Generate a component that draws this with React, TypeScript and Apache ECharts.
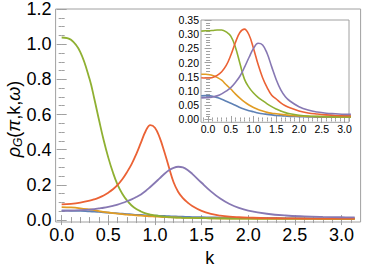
import React, { useEffect, useRef } from "react";
import * as echarts from "echarts";

// ---------- main panel data ----------
const kMain = [0, 0.1, 0.2, 0.3, 0.35, 0.4, 0.45, 0.5, 0.55, 0.6, 0.65, 0.7, 0.75, 0.8, 0.85, 0.9, 0.95, 1.0, 1.05, 1.1, 1.15, 1.2, 1.25, 1.3, 1.35, 1.4, 1.5, 1.6, 1.7, 1.8, 1.9, 2.0, 2.2, 2.4, 2.6, 2.8, 3.0, 3.14159];
const mainBlue = [0.054, 0.053, 0.052, 0.049, 0.048, 0.046, 0.044, 0.042, 0.04, 0.038, 0.036, 0.034, 0.032, 0.03, 0.029, 0.027, 0.026, 0.025, 0.024, 0.023, 0.022, 0.021, 0.02, 0.019, 0.018, 0.017, 0.016, 0.015, 0.014, 0.013, 0.012, 0.012, 0.011, 0.01, 0.01, 0.009, 0.009, 0.009];
const mainOrange = [0.074, 0.072, 0.067, 0.06, 0.056, 0.051, 0.047, 0.043, 0.04, 0.037, 0.034, 0.031, 0.029, 0.027, 0.025, 0.023, 0.021, 0.02, 0.018, 0.017, 0.016, 0.015, 0.014, 0.013, 0.012, 0.012, 0.011, 0.01, 0.009, 0.009, 0.008, 0.008, 0.007, 0.007, 0.007, 0.006, 0.006, 0.006];
const mainGreen = [1.038, 1.025, 0.955, 0.8, 0.69, 0.57, 0.455, 0.355, 0.27, 0.2, 0.15, 0.112, 0.083, 0.063, 0.049, 0.038, 0.031, 0.026, 0.022, 0.019, 0.017, 0.015, 0.014, 0.013, 0.012, 0.012, 0.011, 0.01, 0.01, 0.009, 0.009, 0.009, 0.008, 0.008, 0.008, 0.008, 0.008, 0.008];
const mainRed = [0.089, 0.092, 0.099, 0.11, 0.118, 0.128, 0.14, 0.156, 0.175, 0.2, 0.232, 0.272, 0.318, 0.375, 0.44, 0.505, 0.54, 0.525, 0.47, 0.39, 0.3, 0.215, 0.16, 0.125, 0.1, 0.08, 0.052, 0.035, 0.025, 0.019, 0.016, 0.014, 0.011, 0.01, 0.009, 0.008, 0.008, 0.008];
const mainPurple = [0.053, 0.054, 0.056, 0.059, 0.062, 0.066, 0.07, 0.075, 0.081, 0.088, 0.097, 0.107, 0.118, 0.131, 0.146, 0.165, 0.188, 0.212, 0.237, 0.262, 0.283, 0.297, 0.303, 0.299, 0.285, 0.263, 0.212, 0.163, 0.122, 0.091, 0.069, 0.054, 0.036, 0.026, 0.021, 0.018, 0.016, 0.015];

// ---------- inset data ----------
const kInset = [-0.15, -0.05, 0, 0.1, 0.2, 0.3, 0.4, 0.5, 0.6, 0.7, 0.8, 0.9, 1.0, 1.1, 1.2, 1.3, 1.4, 1.5, 1.6, 1.7, 1.8, 2.0, 2.2, 2.4, 2.6, 2.8, 3.0, 3.14159];
const insetBlue = [0.083, 0.084, 0.084, 0.082, 0.077, 0.071, 0.064, 0.057, 0.05, 0.042, 0.036, 0.031, 0.027, 0.023, 0.02, 0.018, 0.016, 0.014, 0.013, 0.012, 0.011, 0.01, 0.009, 0.008, 0.008, 0.008, 0.008, 0.008];
const insetOrange = [0.159, 0.159, 0.158, 0.155, 0.148, 0.138, 0.122, 0.107, 0.09, 0.075, 0.062, 0.051, 0.042, 0.035, 0.03, 0.025, 0.022, 0.02, 0.018, 0.016, 0.014, 0.012, 0.011, 0.01, 0.01, 0.009, 0.009, 0.009];
const insetGreen = [0.311, 0.312, 0.312, 0.313, 0.315, 0.315, 0.308, 0.293, 0.255, 0.198, 0.142, 0.113, 0.093, 0.078, 0.066, 0.055, 0.045, 0.037, 0.03, 0.024, 0.02, 0.015, 0.012, 0.011, 0.01, 0.009, 0.009, 0.009];
const insetRed = [0.147, 0.146, 0.146, 0.148, 0.155, 0.168, 0.19, 0.226, 0.27, 0.306, 0.318, 0.298, 0.25, 0.194, 0.147, 0.112, 0.085, 0.072, 0.058, 0.048, 0.041, 0.03, 0.023, 0.019, 0.016, 0.014, 0.013, 0.013];
const insetPurple = [0.076, 0.077, 0.077, 0.079, 0.083, 0.09, 0.1, 0.112, 0.13, 0.152, 0.183, 0.218, 0.25, 0.268, 0.262, 0.232, 0.185, 0.14, 0.104, 0.08, 0.065, 0.045, 0.033, 0.026, 0.022, 0.02, 0.018, 0.018];

// ---------- tick values ----------
const mainXMajor = [0, 0.5, 1.0, 1.5, 2.0, 2.5, 3.0];
const mainYMajor = [0, 0.2, 0.4, 0.6, 0.8, 1.0, 1.2];
const insetXMajor = [0, 0.5, 1.0, 1.5, 2.0, 2.5, 3.0];
const insetYMajor = [0, 0.05, 0.1, 0.15, 0.2, 0.25, 0.3, 0.35];

const COLORS = ["#5E81B5", "#E19C24", "#8FB032", "#EB6235", "#8778B3"];

const steps = (a: number, b: number, s: number) => {
  const out: number[] = [];
  const n = Math.round((b - a) / s);
  for (let i = 0; i <= n; i++) out.push(Math.round((a + i * s) * 1000) / 1000);
  return out;
};

const FRAME = "#a0a0a0";
const FONT = "Liberation Sans";

function axisPair(
  dim: "x" | "y",
  gridIndex: number,
  position: string,
  min: number,
  max: number,
  majors: number[],
  minors: number[],
  majorLen: number,
  minorLen: number,
  label: any
) {
  const base = {
    type: "value",
    gridIndex,
    position,
    min,
    max,
    axisLine: { show: false },
    splitLine: { show: false },
  };
  return [
    {
      ...base,
      axisTick: { show: true, inside: true, length: majorLen, customValues: majors, lineStyle: { color: FRAME, width: 1 } },
      axisLabel: label
        ? { show: true, customValues: majors, ...label }
        : { show: false },
    },
    {
      ...base,
      axisTick: { show: true, inside: true, length: minorLen, customValues: minors, lineStyle: { color: FRAME, width: 1 } },
      axisLabel: { show: false },
    },
  ];
}

export default function App() {
  const ref = useRef<HTMLDivElement>(null);
  useEffect(() => {
    if (!ref.current) return;
    document.body.style.margin = "0";
    const chart = echarts.init(ref.current, null, { renderer: "svg" });

    const MX = [-0.065, 3.205];
    const MY = [-0.011, 1.2];
    const IX = [-0.155, 3.1];
    const IY = [-0.01, 0.35];

    const mainLabelX = { fontSize: 18, fontFamily: FONT, color: "#000", margin: 4, formatter: (v: number) => v.toFixed(1) };
    const mainLabelY = { fontSize: 18, fontFamily: FONT, color: "#000", margin: 4, formatter: (v: number) => v.toFixed(1) };
    const insetLabelX = { fontSize: 10.5, fontFamily: FONT, color: "#000", margin: 1, formatter: (v: number) => v.toFixed(1) };
    const insetLabelY = { fontSize: 10.5, fontFamily: FONT, color: "#000", margin: 2, formatter: (v: number) => v.toFixed(2) };

    const xAxis = [
      ...axisPair("x", 0, "bottom", MX[0], MX[1], mainXMajor, steps(0, 3.1, 0.1), 5, 3, mainLabelX),
      ...axisPair("x", 0, "top", MX[0], MX[1], mainXMajor, steps(0, 3.1, 0.1), 5, 3, null),
      ...axisPair("x", 1, "bottom", IX[0], IX[1], insetXMajor, steps(-0.1, 3.1, 0.1), 3.5, 2, insetLabelX),
      ...axisPair("x", 1, "top", IX[0], IX[1], insetXMajor, steps(-0.1, 3.1, 0.1), 3.5, 2, null),
    ];
    const yAxis = [
      ...axisPair("y", 0, "left", MY[0], MY[1], mainYMajor, steps(0, 1.2, 0.05), 5, 3, mainLabelY),
      ...axisPair("y", 0, "right", MY[0], MY[1], mainYMajor, steps(0, 1.2, 0.05), 5, 3, null),
      ...axisPair("y", 1, "left", IY[0], IY[1], insetYMajor, steps(0, 0.35, 0.01), 3.5, 2, insetLabelY),
      ...axisPair("y", 1, "right", IY[0], IY[1], insetYMajor, steps(0, 0.35, 0.01), 3.5, 2, null),
    ];

    const mk = (ks: number[], vs: number[]) => ks.map((k, i) => [k, vs[i]]);
    const mainSets = [mainBlue, mainOrange, mainGreen, mainRed, mainPurple];
    const insetSets = [insetBlue, insetOrange, insetGreen, insetRed, insetPurple];

    const series: any[] = [];
    mainSets.forEach((vs, i) => {
      series.push({
        type: "line",
        xAxisIndex: 0,
        yAxisIndex: 0,
        data: mk(kMain, vs),
        showSymbol: false,
        smooth: 0.4,
        lineStyle: { color: COLORS[i], width: 1.8 },
        itemStyle: { color: COLORS[i] },
        z: 2 + i,
      });
    });
    insetSets.forEach((vs, i) => {
      series.push({
        type: "line",
        xAxisIndex: 4,
        yAxisIndex: 4,
        data: mk(kInset, vs),
        showSymbol: false,
        smooth: 0.4,
        clip: true,
        lineStyle: { color: COLORS[i], width: 1.6 },
        itemStyle: { color: COLORS[i] },
        z: 2 + i,
      });
    });

    chart.setOption({
      animation: false,
      backgroundColor: "#fff",
      grid: [
        { left: 55.6, top: 9, width: 305, height: 213, show: true, borderColor: FRAME, borderWidth: 1, backgroundColor: "transparent" },
        { left: 201, top: 20, width: 148, height: 102.3, show: true, borderColor: FRAME, borderWidth: 1, backgroundColor: "#fff" },
      ],
      xAxis,
      yAxis,
      series,
      graphic: [
        {
          type: "text",
          x: 209.7,
          y: 257.7,
          style: { text: "k", fontSize: 18, fontFamily: FONT, fill: "#000", align: "center", verticalAlign: "middle" },
        },
        {
          type: "text",
          x: 14,
          y: 119,
          rotation: Math.PI / 2,
          style: {
            text: "{i|ρ}{s|G}{n|(}{i|π}{n|,k,}{i|ω}{n|)}",
            align: "center",
            verticalAlign: "middle",
            fill: "#000",
            rich: {
              i: { fontSize: 18, fontStyle: "italic", fontFamily: FONT, fill: "#000" },
              n: { fontSize: 18, fontFamily: FONT, fill: "#000" },
              s: { fontSize: 12, fontStyle: "italic", fontFamily: FONT, fill: "#000", verticalAlign: "bottom", padding: [8, 0, 0, 0] },
            },
          },
        },
      ],
    });
    return () => chart.dispose();
  }, []);
  return <div ref={ref} style={{ width: 366, height: 272 }} />;
}
